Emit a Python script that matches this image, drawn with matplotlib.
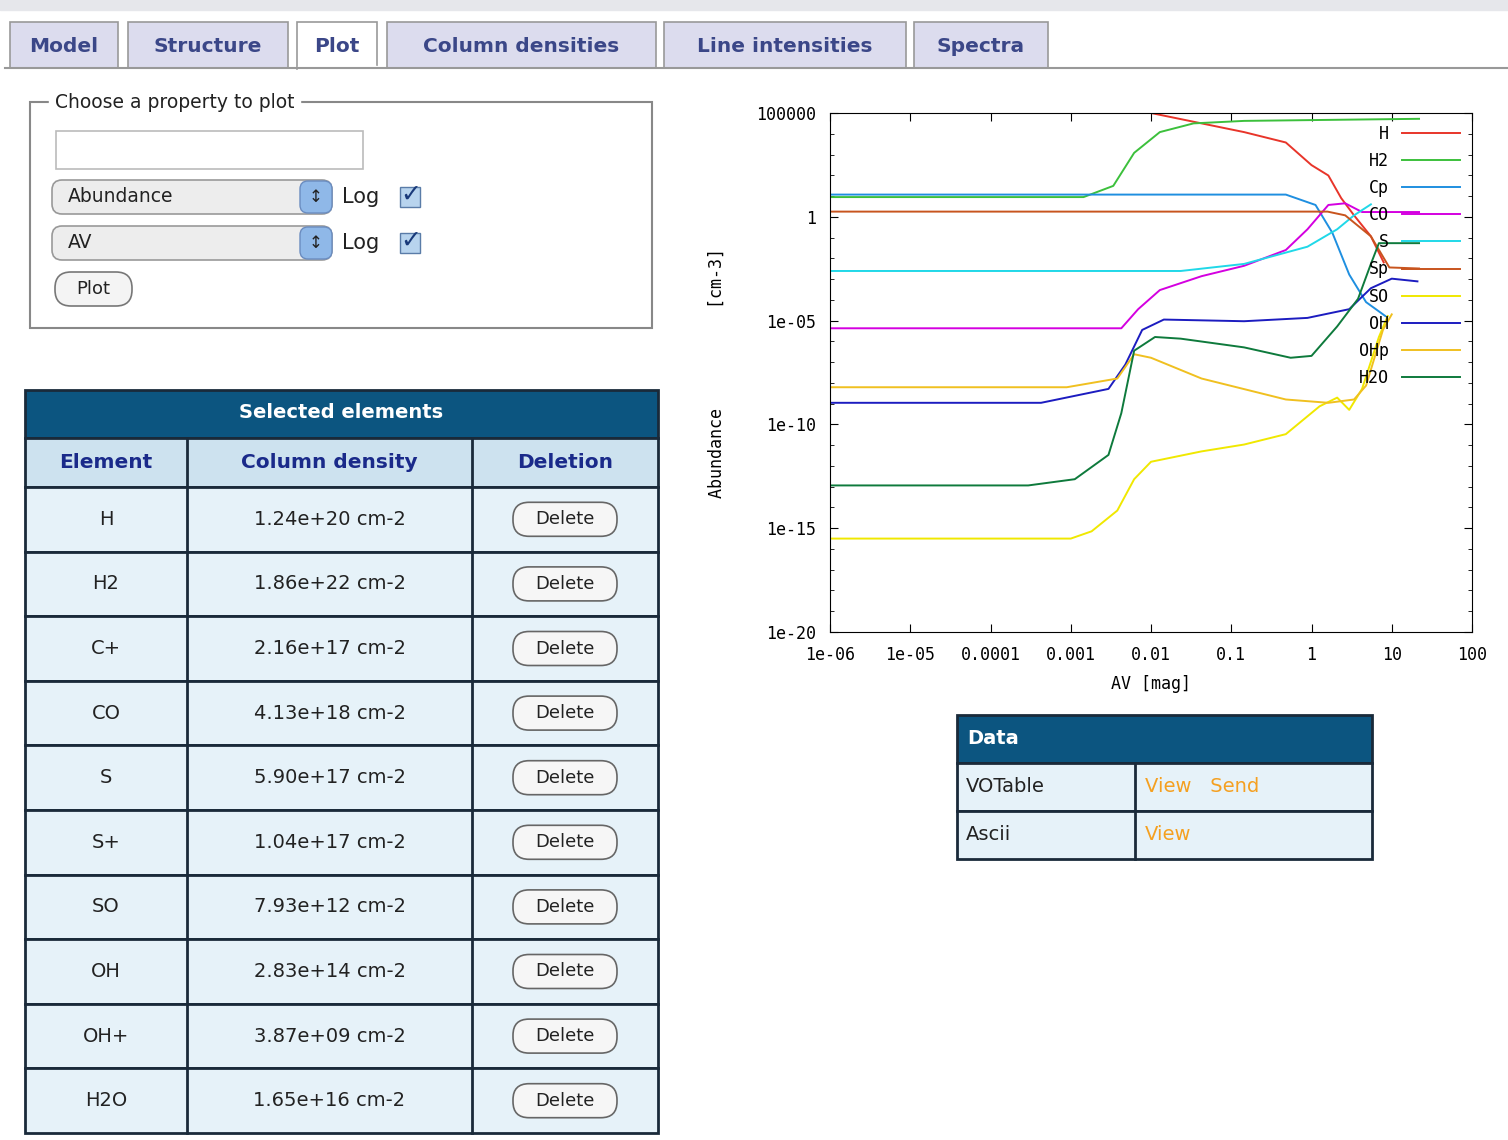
import numpy as np
import matplotlib.pyplot as plt
from matplotlib.patches import Rectangle, FancyBboxPatch

# species, log10(AV) and log10(abundance)
species = ['H', 'H2', 'Cp', 'CO', 'S', 'Sp', 'SO', 'OH', 'OHp', 'H2O']
colors = ['#e8352a', '#3cc03c', '#1f8fe0', '#d400e0', '#20d8e8', '#c8541e',
          '#f0e800', '#1c1cc0', '#f0c020', '#0e7a3c']
logav = {
    'H':   [-6, -2.3, -2.0, -1.37, -0.84, -0.32, 0.0, 0.21, 0.37, 0.53, 0.74, 0.9],
    'H2':  [-6, -2.84, -2.47, -2.21, -1.89, -1.47, -0.84, 1.34],
    'Cp':  [-6, -0.32, 0.05, 0.26, 0.47, 0.68, 0.92],
    'CO':  [-6, -2.37, -2.16, -1.89, -1.37, -0.84, -0.32, -0.05, 0.21, 0.42, 0.63, 1.34],
    'S':   [-6, -1.63, -0.84, -0.05, 0.32, 0.53, 0.74],
    'Sp':  [-6, 0.2, 0.42, 0.74, 0.97, 1.34],
    'SO':  [-6, -3.0, -2.74, -2.42, -2.21, -2.0, -1.37, -0.84, -0.32, 0.1, 0.32, 0.47, 0.63, 0.84, 0.95],
    'OH':  [-6, -3.37, -2.53, -2.32, -2.11, -1.84, -0.84, -0.05, 0.47, 0.74, 1.0, 1.32],
    'OHp': [-6, -3.05, -2.42, -2.21, -2.0, -1.37, -0.32, 0.21, 0.53, 0.68, 0.89, 1.0],
    'H2O': [-6, -3.53, -2.95, -2.53, -2.37, -2.21, -1.95, -1.63, -0.84, -0.26, 0.0, 0.32, 0.58, 0.74, 0.84, 1.34],
}
logab = {
    'H':   [5.6, 5.6, 5.0, 4.5, 4.08, 3.58, 2.49, 1.99, 0.9, 0.07, -0.94, -2.2],
    'H2':  [0.95, 0.95, 1.49, 3.08, 4.08, 4.5, 4.62, 4.72],
    'Cp':  [1.07, 1.07, 0.57, -0.77, -2.78, -4.11, -4.78],
    'CO':  [-5.37, -5.37, -4.45, -3.53, -2.86, -2.36, -1.6, -0.6, 0.57, 0.65, 0.23, 0.23],
    'S':   [-2.61, -2.61, -2.27, -1.44, -0.6, 0.07, 0.6],
    'Sp':  [0.25, 0.25, 0.07, -0.94, -2.44, -2.49],
    'SO':  [-15.5, -15.5, -15.15, -14.15, -12.64, -11.8, -11.3, -10.97, -10.47, -9.13, -8.71, -9.3, -8.29, -5.79, -4.78],
    'OH':  [-8.96, -8.96, -8.29, -7.12, -5.45, -4.95, -5.03, -4.87, -4.45, -3.44, -2.98, -3.11],
    'OHp': [-8.21, -8.21, -7.79, -6.62, -6.79, -7.79, -8.8, -8.96, -8.8, -8.13, -5.45, -4.7],
    'H2O': [-12.94, -12.94, -12.64, -11.47, -9.46, -6.45, -5.79, -5.87, -6.29, -6.79, -6.7, -5.28, -3.95, -2.27, -1.27, -1.27],
}

tabs = ['Model', 'Structure', 'Plot', 'Column densities', 'Line intensities', 'Spectra']
elements = ['H', 'H2', 'C+', 'CO', 'S', 'S+', 'SO', 'OH', 'OH+', 'H2O']
coldens = ['1.24e+20 cm-2', '1.86e+22 cm-2', '2.16e+17 cm-2', '4.13e+18 cm-2', '5.90e+17 cm-2',
           '1.04e+17 cm-2', '7.93e+12 cm-2', '2.83e+14 cm-2', '3.87e+09 cm-2', '1.65e+16 cm-2']
xticklabels = ['1e-06', '1e-05', '0.0001', '0.001', '0.01', '0.1', '1', '10', '100']
yticklabels = ['1e-20', '1e-15', '1e-10', '1e-05', '1', '100000']

W, H = 1508, 1140
fig = plt.figure(figsize=(W / 100, H / 100), dpi=100)
ui = fig.add_axes([0, 0, 1, 1])
ui.set_xlim(0, W)
ui.set_ylim(H, 0)
ui.axis('off')

dark = '#0c5580'
light = '#e6f2f9'
sub = '#cde2ef'
navy = '#1a2a8a'

# top strip and tabs
ui.add_patch(Rectangle((0, 0), W, 10, color='#e6e7eb'))
ui.plot([5, W], [68, 68], color='#999999', lw=1.5)
tab_x = [(10, 118), (128, 288), (297, 377), (387, 656), (664, 906), (914, 1048)]
for name, (x0, x1) in zip(tabs, tab_x):
    active = name == 'Plot'
    ui.add_patch(Rectangle((x0, 22), x1 - x0, 47 if active else 46,
                           facecolor='white' if active else '#dcdcee',
                           edgecolor='#999999', lw=1.2))
    ui.text((x0 + x1) / 2, 46, name, ha='center', va='center', fontsize=14.5,
            fontweight='bold', color='#3b4788')
if True:
    ui.add_patch(Rectangle((297.6, 66), 79, 4, color='white'))

# fieldset
ui.add_patch(Rectangle((30, 102), 622, 226, fill=False, edgecolor='#888888', lw=1.5))
ui.text(55, 103, 'Choose a property to plot', ha='left', va='center', fontsize=13.5,
        color='#222222', backgroundcolor='white')
ui.add_patch(Rectangle((56, 131), 307, 38, fill=False, edgecolor='#bbbbbb', lw=1.2))
for yy, txt in [(197, 'Abundance'), (243, 'AV')]:
    ui.add_patch(FancyBboxPatch((52, yy - 17), 280, 34, boxstyle='round,pad=0,rounding_size=10',
                                facecolor='#ededed', edgecolor='#999999', lw=1.2))
    ui.add_patch(FancyBboxPatch((300, yy - 16), 32, 32, boxstyle='round,pad=0,rounding_size=8',
                                facecolor='#8fb8e8', edgecolor='#6a8cc0', lw=1))
    ui.text(316, yy, '\u2195', ha='center', va='center', fontsize=12, color='#222222')
    ui.text(68, yy, txt, ha='left', va='center', fontsize=13.5, color='#222222')
    ui.text(342, yy, 'Log', ha='left', va='center', fontsize=15, color='#222222')
    ui.add_patch(Rectangle((400, yy - 10), 20, 20, facecolor='#b8d4ee', edgecolor='#5a7ca8', lw=1))
    ui.text(411, yy - 2, '\u2713', ha='center', va='center', fontsize=18, color='#1a3a7a',
            fontweight='bold')
ui.add_patch(FancyBboxPatch((55, 272), 77, 34, boxstyle='round,pad=0,rounding_size=16',
                            facecolor='#f4f4f4', edgecolor='#777777', lw=1.2))
ui.text(93, 289, 'Plot', ha='center', va='center', fontsize=13, color='#222222')

# selected elements table
tx0, tx1, c1, c2 = 25, 658, 187, 472
ui.add_patch(Rectangle((tx0, 390), tx1 - tx0, 48, facecolor=dark, edgecolor='#1a2a3a', lw=2))
ui.text((tx0 + tx1) / 2, 413, 'Selected elements', ha='center', va='center', fontsize=14,
        fontweight='bold', color='white')
ui.add_patch(Rectangle((tx0, 438), tx1 - tx0, 49, facecolor=sub, edgecolor='#1a2a3a', lw=2))
for xc, txt in [((tx0 + c1) / 2, 'Element'), ((c1 + c2) / 2, 'Column density'),
                ((c2 + tx1) / 2, 'Deletion')]:
    ui.text(xc, 462, txt, ha='center', va='center', fontsize=14.5, fontweight='bold', color=navy)
rh = (1133 - 487) / len(elements)
for i, (el, cd) in enumerate(zip(elements, coldens)):
    y0 = 487 + i * rh
    ui.add_patch(Rectangle((tx0, y0), tx1 - tx0, rh, facecolor=light, edgecolor='#1a2a3a', lw=2))
    yc = y0 + rh / 2
    ui.text((tx0 + c1) / 2, yc, el, ha='center', va='center', fontsize=14, color='#222222')
    ui.text((c1 + c2) / 2, yc, cd, ha='center', va='center', fontsize=14, color='#222222')
    ui.add_patch(FancyBboxPatch((513, yc - 17), 104, 34, boxstyle='round,pad=0,rounding_size=16',
                                facecolor='#f6f6f6', edgecolor='#666666', lw=1.2))
    ui.text(565, yc, 'Delete', ha='center', va='center', fontsize=13, color='#222222')
for xx in (c1, c2):
    ui.plot([xx, xx], [438, 1133], color='#1a2a3a', lw=2)

# data table
dx0, dx1, dc = 957, 1372, 1135
ui.add_patch(Rectangle((dx0, 715), dx1 - dx0, 48, facecolor=dark, edgecolor='#1a2a3a', lw=2))
ui.text(967, 739, 'Data', ha='left', va='center', fontsize=14, fontweight='bold', color='white')
for i, (lab, links) in enumerate([('VOTable', 'View   Send'), ('Ascii', 'View')]):
    y0 = 763 + i * 48
    ui.add_patch(Rectangle((dx0, y0), dx1 - dx0, 48, facecolor=light, edgecolor='#1a2a3a', lw=2))
    ui.text(966, y0 + 24, lab, ha='left', va='center', fontsize=14, color='#222222')
    ui.text(1145, y0 + 24, links, ha='left', va='center', fontsize=14, color='#f5a020')
ui.plot([dc, dc], [763, 859], color='#1a2a3a', lw=2)

# gnuplot chart
ax = fig.add_axes([830 / W, (H - 632) / H, 642 / W, 519 / H])
for sp, c in zip(species, colors):
    ax.plot(10 ** np.array(logav[sp]), 10 ** np.array(logab[sp]), color=c, lw=1.4, label=sp)
ax.set_xscale('log')
ax.set_yscale('log')
ax.set_xlim(1e-6, 100)
ax.set_ylim(1e-20, 1e5)
mono = 'DejaVu Sans Mono'
ax.set_xticks([10.0 ** k for k in range(-6, 3)])
ax.set_xticklabels(xticklabels, family=mono, fontsize=12)
ax.set_yticks([10.0 ** k for k in range(-20, 6, 5)])
ax.set_yticklabels(yticklabels, family=mono, fontsize=12)
ax.set_yticks([10.0 ** k for k in range(-20, 6)], minor=True)
ax.set_yticklabels([], minor=True)
ax.set_xticks([], minor=True)
ax.tick_params(which='both', direction='in', top=True, right=True, length=6, pad=10)
ax.tick_params(which='minor', length=3)
ax.set_xlabel('AV [mag]', family=mono, fontsize=12, labelpad=8)
ax.set_ylabel('Abundance          [cm-3]', family=mono, fontsize=12, labelpad=22)
ax.legend(loc='upper right', frameon=False, markerfirst=False, prop={'family': mono, 'size': 12},
          handlelength=3.5, labelspacing=0.55, borderaxespad=0.3)

fig.savefig('out.png', dpi=100)
